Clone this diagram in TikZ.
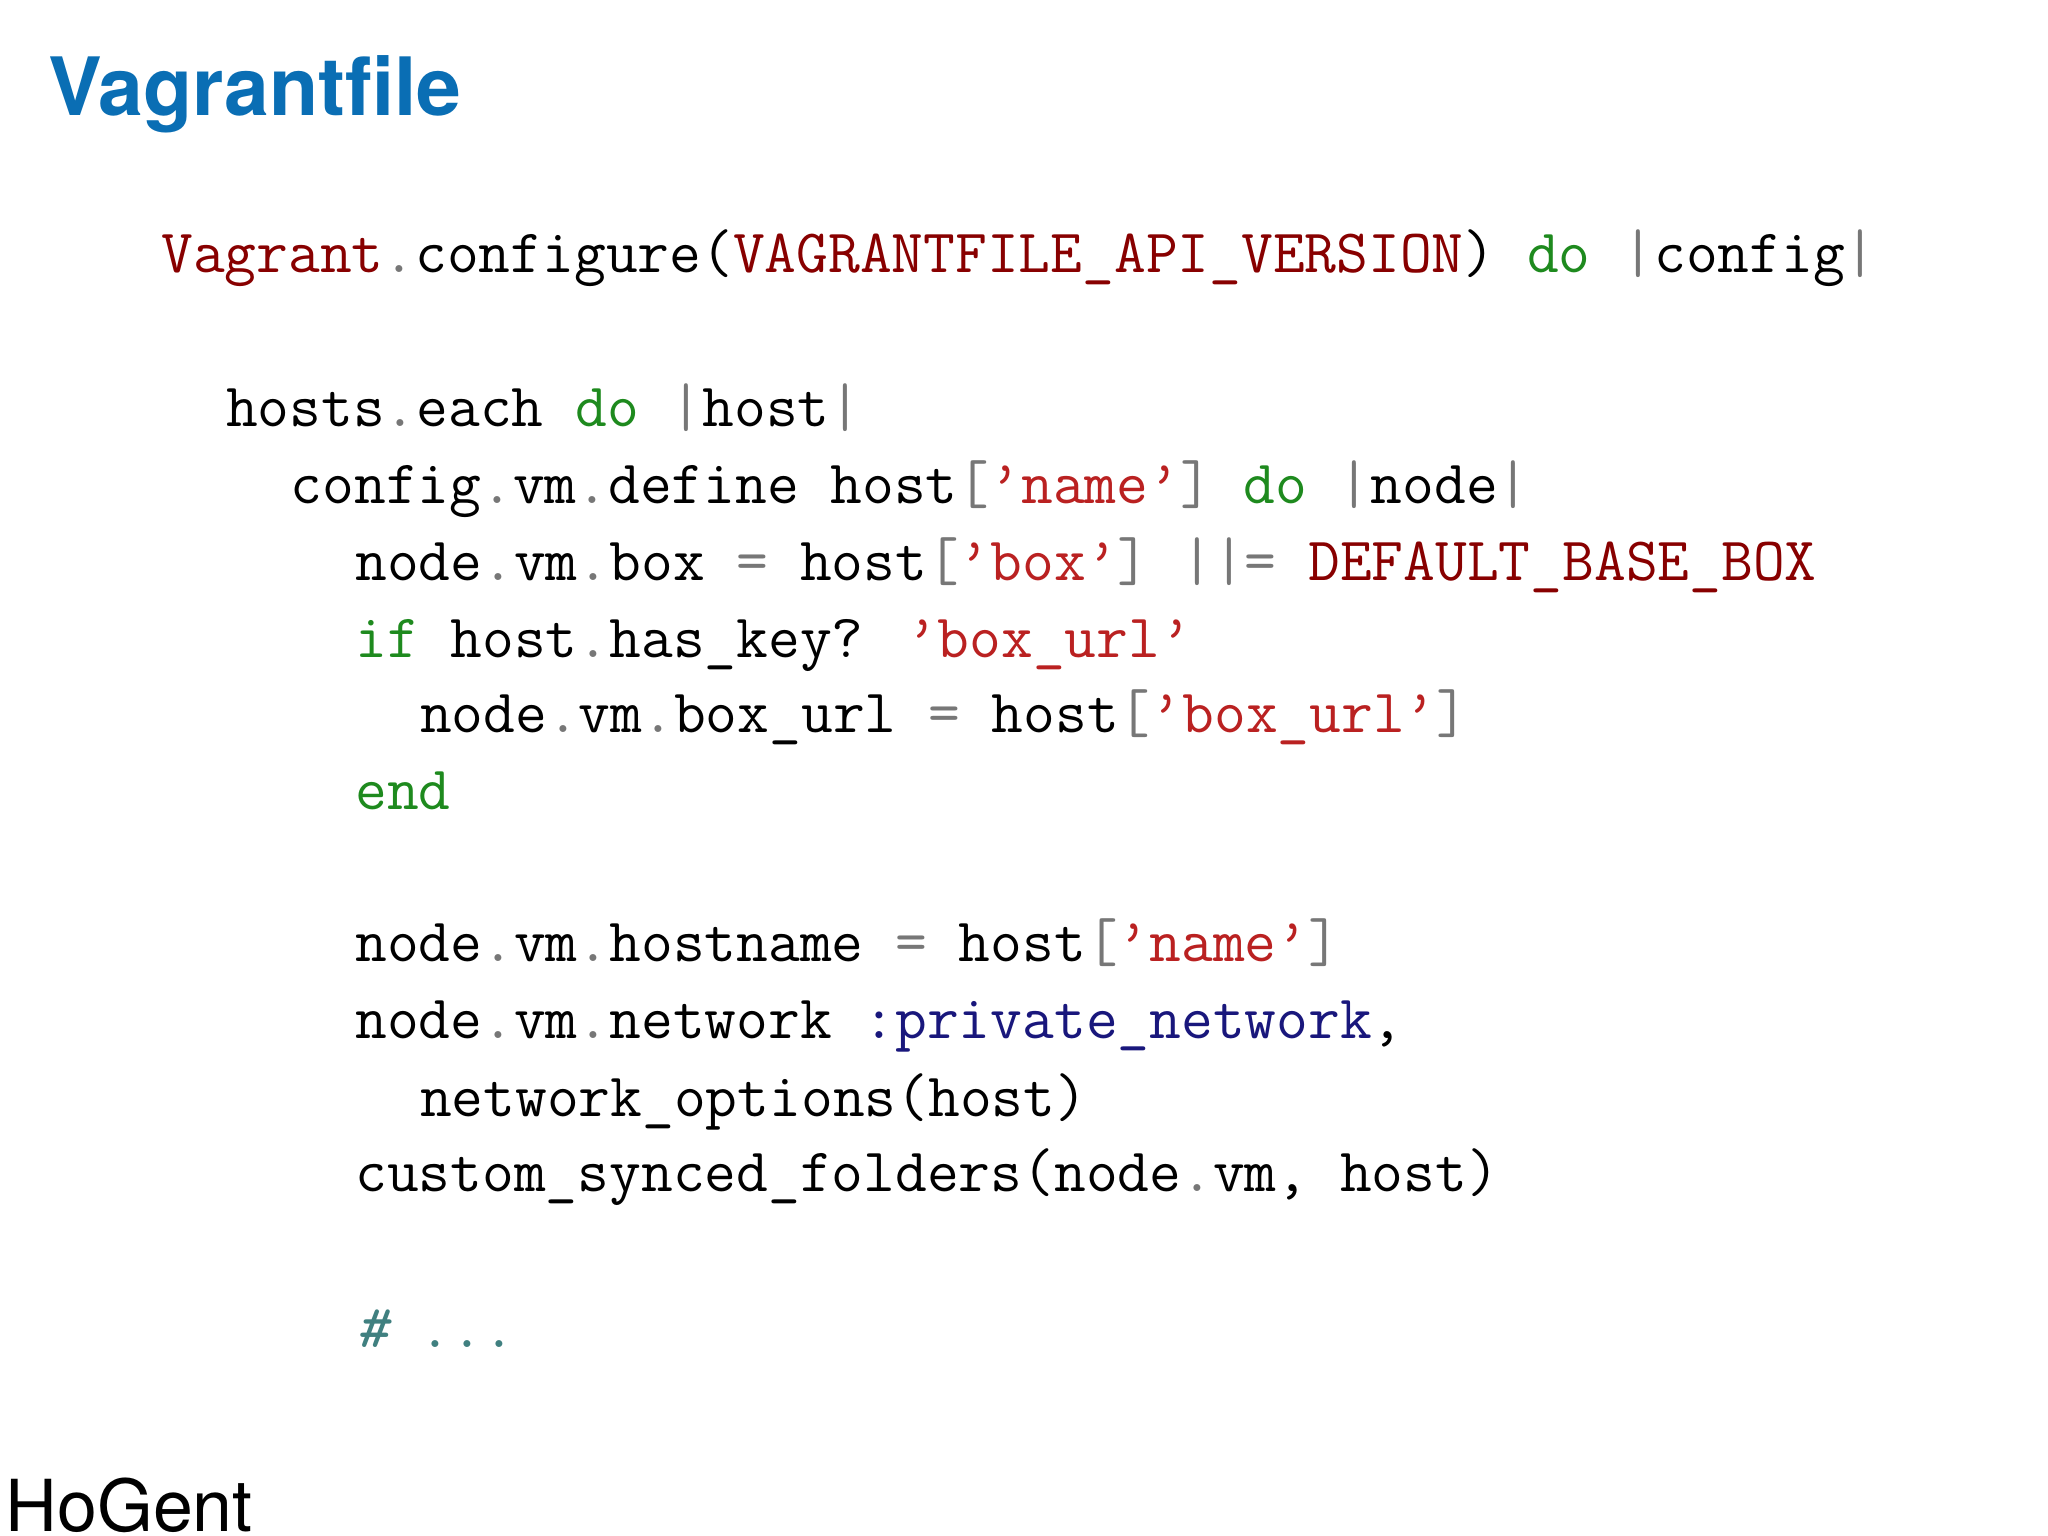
\documentclass[tikz,border=0pt]{standalone}
\usepackage{fontspec}
\newfontfamily\heros{TeX Gyre Heros}
\definecolor{titleblue}{HTML}{0A6EB4}
\definecolor{punc}{HTML}{777777}
\definecolor{kwc}{HTML}{1E8A1E}
\definecolor{strc}{HTML}{BA2121}
\definecolor{cnc}{HTML}{880000}
\definecolor{symc}{HTML}{19177C}
\definecolor{cmtc}{HTML}{408080}
\newcommand\Pu[1]{\textcolor{punc}{#1}}
\newcommand\Kw[1]{\textcolor{kwc}{#1}}
\newcommand\Str[1]{\textcolor{strc}{#1}}
\newcommand\Cn[1]{\textcolor{cnc}{#1}}
\newcommand\Sym[1]{\textcolor{symc}{#1}}
\newcommand\Cmt[1]{\textcolor{cmtc}{#1}}
\begin{document}
\begin{tikzpicture}[x=1cm,y=1cm,
  code/.style={anchor=base west,inner sep=0pt,font=\ttfamily\fontsize{17.55}{20}\selectfont}]
\useasboundingbox[fill=white] (0,0) rectangle (20.48,-15.36);
\node[anchor=base west,inner sep=0pt,font=\heros\bfseries\fontsize{22.9}{26}\selectfont,text=titleblue] (title) at (0.48,-1.16) {Vagrantfile};
\def\cw{0.3235}
\def\xo{1.606}
\node[code] (l1) at (\xo,-2.73) {\Cn{Vagrant}\Pu{.}configure(\Cn{VAGRANTFILE\_API\_VERSION}) \Kw{do} \Pu{|}config\Pu{|}};
\node[code] (l2) at (\xo+2*\cw,-4.27) {hosts\Pu{.}each \Kw{do} \Pu{|}host\Pu{|}};
\node[code] (l3) at (\xo+4*\cw,-5.04) {config\Pu{.}vm\Pu{.}define host\Pu{[}\Str{’name’}\Pu{]} \Kw{do} \Pu{|}node\Pu{|}};
\node[code] (l4) at (\xo+6*\cw,-5.80) {node\Pu{.}vm\Pu{.}box \Pu{=} host\Pu{[}\Str{’box’}\Pu{]} \Pu{||=} \Cn{DEFAULT\_BASE\_BOX}};
\node[code] (l5) at (\xo+6*\cw,-6.57) {\Kw{if} host\Pu{.}has\_key? \Str{’box\_url’}};
\node[code] (l6) at (\xo+8*\cw,-7.33) {node\Pu{.}vm\Pu{.}box\_url \Pu{=} host\Pu{[}\Str{’box\_url’}\Pu{]}};
\node[code] (l7) at (\xo+6*\cw,-8.10) {\Kw{end}};
\node[code] (l8) at (\xo+6*\cw,-9.62) {node\Pu{.}vm\Pu{.}hostname \Pu{=} host\Pu{[}\Str{’name’}\Pu{]}};
\node[code] (l9) at (\xo+6*\cw,-10.39) {node\Pu{.}vm\Pu{.}network \Sym{:private\_network},};
\node[code] (l10) at (\xo+8*\cw,-11.16) {network\_options(host)};
\node[code] (l11) at (\xo+6*\cw,-11.91) {custom\_synced\_folders(node\Pu{.}vm, host)};
\node[code] (l12) at (\xo+6*\cw,-13.47) {\Cmt{\itshape\#\upshape{} ...}};
\node[anchor=base west,inner sep=0pt,font=\heros\fontsize{20.4}{24}\selectfont] (hogent) at (0.05,-15.31) {HoGent};
\end{tikzpicture}
\end{document}
